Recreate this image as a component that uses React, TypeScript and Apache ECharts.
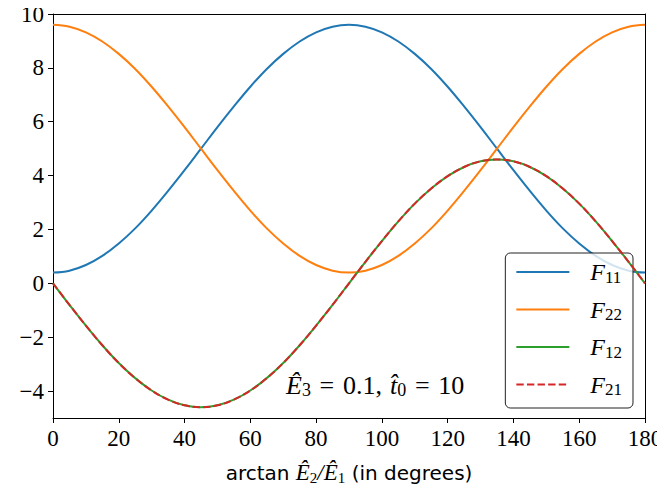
import React, { useEffect, useRef } from "react";
import * as echarts from "echarts";

const angles = [0, 5, 10, 15, 20, 25, 30, 35, 40, 45, 50, 55, 60, 65, 70, 75, 80, 85, 90, 95, 100, 105, 110, 115, 120, 125, 130, 135, 140, 145, 150, 155, 160, 165, 170, 175, 180];
const f11 = [0.40, 0.47, 0.68, 1.02, 1.48, 2.04, 2.70, 3.43, 4.20, 5.00, 5.80, 6.57, 7.30, 7.96, 8.52, 8.98, 9.32, 9.53, 9.60, 9.53, 9.32, 8.98, 8.52, 7.96, 7.30, 6.57, 5.80, 5.00, 4.20, 3.43, 2.70, 2.04, 1.48, 1.02, 0.68, 0.47, 0.40];
const f22 = [9.60, 9.53, 9.32, 8.98, 8.52, 7.96, 7.30, 6.57, 5.80, 5.00, 4.20, 3.43, 2.70, 2.04, 1.48, 1.02, 0.68, 0.47, 0.40, 0.47, 0.68, 1.02, 1.48, 2.04, 2.70, 3.43, 4.20, 5.00, 5.80, 6.57, 7.30, 7.96, 8.52, 8.98, 9.32, 9.53, 9.60];
const f12 = [0, -0.80, -1.57, -2.30, -2.96, -3.52, -3.98, -4.32, -4.53, -4.60, -4.53, -4.32, -3.98, -3.52, -2.96, -2.30, -1.57, -0.80, 0, 0.80, 1.57, 2.30, 2.96, 3.52, 3.98, 4.32, 4.53, 4.60, 4.53, 4.32, 3.98, 3.52, 2.96, 2.30, 1.57, 0.80, 0];
const f21 = [0, -0.80, -1.57, -2.30, -2.96, -3.52, -3.98, -4.32, -4.53, -4.60, -4.53, -4.32, -3.98, -3.52, -2.96, -2.30, -1.57, -0.80, 0, 0.80, 1.57, 2.30, 2.96, 3.52, 3.98, 4.32, 4.53, 4.60, 4.53, 4.32, 3.98, 3.52, 2.96, 2.30, 1.57, 0.80, 0];
const yTicks = [-4, -2, 0, 2, 4, 6, 8, 10];
const seriesNames = ["F11", "F22", "F12", "F21"];
const seriesColors = ["#1f77b4", "#ff7f0e", "#2ca02c", "#d62728"];

const SERIF = "'Liberation Serif', 'DejaVu Serif', serif";
const SANS = "'DejaVu Sans', 'Liberation Sans', sans-serif";

function pairs(ys: number[]) {
  return angles.map((a, i) => [a, ys[i]]);
}

const annoRich = {
  m: { fontFamily: SERIF, fontStyle: "italic", fontSize: 26, fill: "#000" },
  r: { fontFamily: SERIF, fontSize: 26, fill: "#000" },
  sub: { fontFamily: SERIF, fontSize: 18, fill: "#000", padding: [10, 0, 0, 0] },
};

export default function App() {
  const ref = useRef<HTMLDivElement>(null);
  useEffect(() => {
    if (!ref.current) return;
    const chart = echarts.init(ref.current, null, { renderer: "svg" });
    const data = [f11, f22, f12, f21];
    const axisLineStyle = { color: "#000", width: 1 };
    chart.setOption({
      animation: false,
      backgroundColor: "#fff",
      grid: { left: 53, right: 20, top: 14, bottom: 73, containLabel: false, outerBoundsMode: "none" },
      xAxis: [
        {
          type: "value",
          min: 0,
          max: 180,
          interval: 20,
          splitLine: { show: false },
          axisLine: { show: true, lineStyle: axisLineStyle, onZero: false },
          axisTick: { show: true, length: 5, lineStyle: axisLineStyle },
          axisLabel: { color: "#000", fontFamily: SERIF, fontSize: 23, margin: 9 },
          name: "{s|arctan }{m|Ê}{sub|2}{m|/Ê}{sub|1}{s| (in degrees)}",
          nameLocation: "middle",
          nameGap: 42,
          nameTextStyle: {
            rich: {
              s: { fontFamily: SANS, fontSize: 20, color: "#000" },
              m: { fontFamily: SERIF, fontStyle: "italic", fontSize: 23, color: "#000" },
              sub: { fontFamily: SERIF, fontSize: 15, color: "#000", padding: [10, 0, 0, 0] },
            },
          },
        },
        {
          type: "value",
          position: "top",
          min: 0,
          max: 180,
          splitLine: { show: false },
          axisLine: { show: true, lineStyle: axisLineStyle, onZero: false },
          axisTick: { show: false },
          axisLabel: { show: false },
        },
      ],
      yAxis: [
        {
          type: "value",
          min: -5,
          max: 10,
          splitLine: { show: false },
          axisLine: { show: true, lineStyle: axisLineStyle, onZero: false },
          axisTick: { show: true, length: 5, lineStyle: axisLineStyle, customValues: yTicks },
          axisLabel: {
            color: "#000",
            fontFamily: SERIF,
            fontSize: 23,
            margin: 9,
            customValues: yTicks,
            formatter: (v: number) => (v < 0 ? "\u2212" + Math.abs(v) : String(v)),
          },
        },
        {
          type: "value",
          position: "right",
          min: -5,
          max: 10,
          splitLine: { show: false },
          axisLine: { show: true, lineStyle: axisLineStyle, onZero: false },
          axisTick: { show: false },
          axisLabel: { show: false },
        },
      ],
      legend: {
        orient: "vertical",
        right: 32,
        top: 253,
        itemWidth: 53,
        itemHeight: 14,
        itemGap: 12,
        padding: [7, 11, 10, 10],
        backgroundColor: "rgba(255,255,255,0.8)",
        borderColor: "#222",
        borderWidth: 1,
        borderRadius: 5,
        itemStyle: { opacity: 0 },
        data: seriesNames,
        formatter: (name: string) => "{f|F}{sub|" + name.slice(1) + "}",
        textStyle: {
          rich: {
            f: { fontFamily: SERIF, fontStyle: "italic", fontSize: 24, color: "#000", padding: [0, 0, 0, 16] },
            sub: { fontFamily: SERIF, fontSize: 17, color: "#000", padding: [10, 0, 0, 0] },
          },
        },
      },
      graphic: [
        {
          type: "text",
          left: 286,
          top: 372,
          style: {
            text: "{m|Ê}{sub|3}{r|\u2004=\u20040.1,}",
            rich: annoRich,
          },
        },
        {
          type: "text",
          left: 390,
          top: 372,
          style: {
            text: "{m|t\u0302}{sub|0}{r|\u2004=\u200410}",
            rich: annoRich,
          },
        },
      ],
      series: seriesNames.map((n, i) => ({
        name: n,
        type: "line",
        data: pairs(data[i]),
        smooth: 0.4,
        symbol: "none",
        color: seriesColors[i],
        lineStyle: { width: 2, color: seriesColors[i], type: i === 3 ? [7.4, 3.2] : "solid" },
        z: 2 + i,
      })),
    });
    return () => chart.dispose();
  }, []);
  return <div ref={ref} style={{ width: 665, height: 491, marginLeft: -8, marginTop: -8 }} />;
}
